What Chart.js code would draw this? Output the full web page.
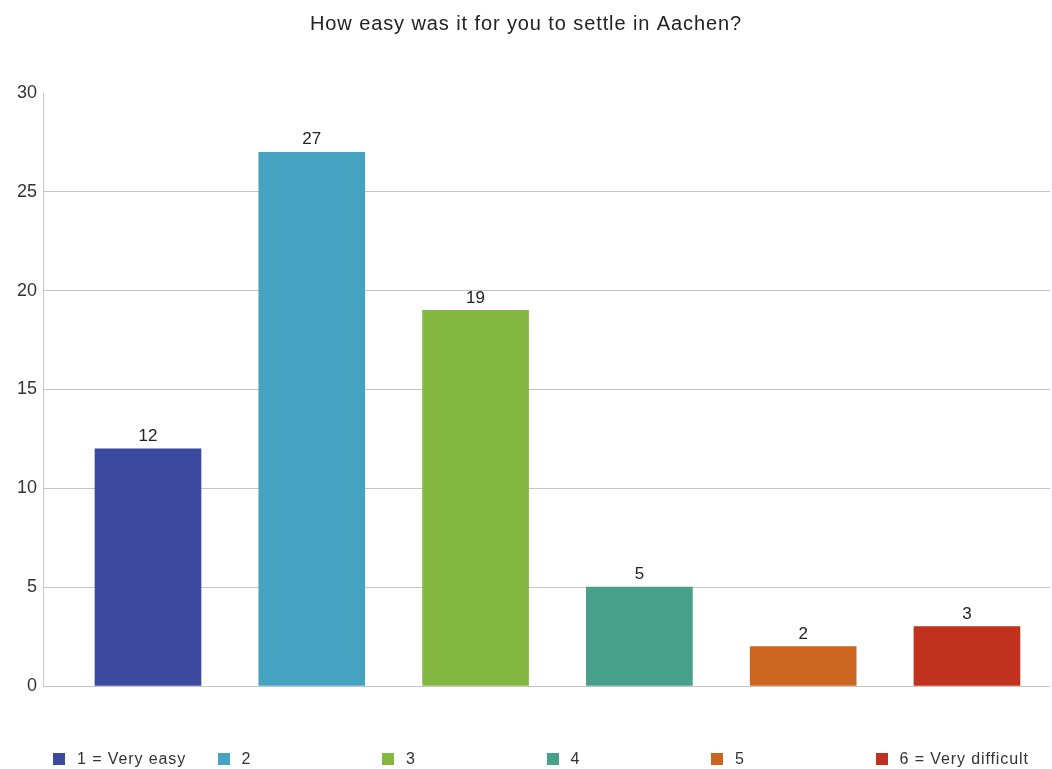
<!DOCTYPE html>
<html lang="en">
<head>
    <meta charset="UTF-8">
    <title>How easy was it for you to settle in Aachen?</title>
    <script src="https://cdn.jsdelivr.net/npm/chart.js"></script>
    <style>
        html, body { margin: 0; padding: 0; background: #fff; }
        #wrap { position: relative; width: 1052px; height: 769px; }
        #legenda {
            position: absolute; left: 53px; top: 750px;
            display: flex; font-family: "Liberation Sans", Arial, sans-serif;
            font-size: 16px; color: #333; letter-spacing: 0.9px;
        }
        .item { width: 164.5px; display: flex; align-items: center; white-space: nowrap; }
        .quad { width: 12px; height: 12px; margin-right: 12px; }
    </style>
</head>
<body>
    <div id="wrap">
        <canvas id="grafico" width="1052" height="769"></canvas>
        <div id="legenda"></div>
    </div>

<script>
    const titulo = 'How easy was it for you to settle in Aachen?';
    const categorias = ['1 = Very easy', '2', '3', '4', '5', '6 = Very difficult'];
    const respostas = [12, 27, 19, 5, 2, 3];
    const cores = ['#3b4a9e', '#46a2c1', '#84b843', '#46a08a', '#cc651f', '#c0311e'];
    const ticksY = [0, 5, 10, 15, 20, 25, 30];

    const fonte = '"Liberation Sans", Arial, sans-serif';

    // legenda em html, colunas fixas como no original
    const legenda = document.getElementById('legenda');
    categorias.forEach((nome, i) => {
        const item = document.createElement('div');
        item.className = 'item';
        item.innerHTML = '<span class="quad" style="background:' + cores[i] + '"></span><span>' + nome + '</span>';
        legenda.appendChild(item);
    });

    // titulo e valores em cima das barras
    const textos = {
        id: 'textos',
        afterDatasetsDraw(chart) {
            const ctx = chart.ctx;
            ctx.save();
            ctx.fillStyle = '#222';
            ctx.textAlign = 'center';

            ctx.font = '20px ' + fonte;
            ctx.textBaseline = 'middle';
            ctx.letterSpacing = '0.9px';
            ctx.fillText(titulo, chart.width / 2, 24);

            ctx.letterSpacing = '0px';
            ctx.font = '17px ' + fonte;
            ctx.textBaseline = 'bottom';
            chart.getDatasetMeta(0).data.forEach((barra, i) => {
                ctx.fillText(respostas[i], barra.x, barra.y - 4);
            });
            ctx.restore();
        }
    };

    new Chart(document.getElementById('grafico'), {
        type: 'bar',
        data: {
            datasets: [{
                label: 'Respostas',
                data: respostas.map((v, i) => ({ x: i + 1, y: v })),
                backgroundColor: cores,
                borderWidth: 0,
                barThickness: 106
            }]
        },
        options: {
            responsive: false,
            animation: false,
            layout: { padding: { top: 93, right: 2, bottom: 83, left: 0 } },
            plugins: {
                legend: { display: false },
                tooltip: { enabled: false },
                title: { display: false }
            },
            scales: {
                x: {
                    type: 'linear',
                    min: 0.359,
                    max: 6.507,
                    offset: false,
                    display: false
                },
                y: {
                    min: 0,
                    max: 30,
                    afterBuildTicks: (escala) => { escala.ticks = ticksY.map(v => ({ value: v })); },
                    afterFit: (escala) => { escala.width = 43; },
                    border: { color: '#c8c8c8' },
                    grid: {
                        drawTicks: false,
                        color: (c) => c.tick && c.tick.value === 30 ? 'rgba(0,0,0,0)' : '#c4c4c4'
                    },
                    ticks: {
                        padding: 6,
                        color: '#333',
                        font: { family: fonte, size: 18 }
                    }
                }
            }
        },
        plugins: [textos]
    });
</script>
</body>
</html>
